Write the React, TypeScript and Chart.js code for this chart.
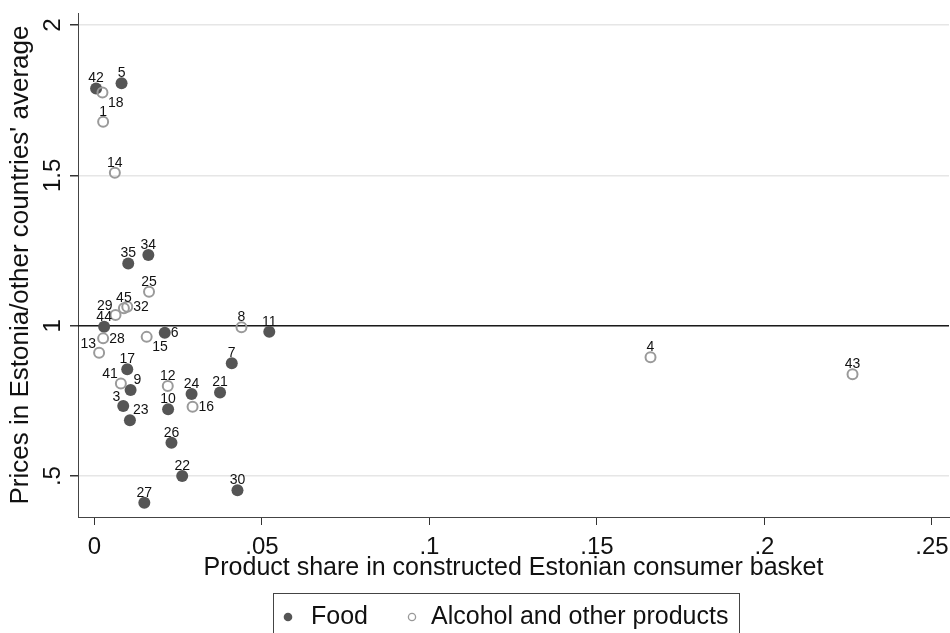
import React, { useEffect, useRef } from "react";
import { Chart, registerables } from "chart.js";

Chart.register(...registerables);

// ---- Data ----
const foodIds = ["42", "5", "35", "34", "44", "6", "11", "7", "21", "24", "10", "17", "9", "3", "23", "26", "22", "30", "27"];
const foodShare = [0.0005, 0.0081, 0.0101, 0.0161, 0.0029, 0.021, 0.0522, 0.041, 0.0375, 0.029, 0.022, 0.0098, 0.0108, 0.0086, 0.0106, 0.023, 0.0262, 0.0427, 0.0149];
const foodPrice = [1.789, 1.806, 1.207, 1.235, 0.997, 0.977, 0.98, 0.875, 0.778, 0.773, 0.722, 0.855, 0.786, 0.733, 0.686, 0.611, 0.5, 0.453, 0.411];

const alcIds = ["18", "1", "14", "25", "45", "32", "29", "28", "13", "15", "41", "12", "16", "8", "4", "43"];
const alcShare = [0.0024, 0.0026, 0.0061, 0.0163, 0.0088, 0.0098, 0.0063, 0.0026, 0.0014, 0.0156, 0.0079, 0.0219, 0.0293, 0.0439, 0.166, 0.2263];
const alcPrice = [1.776, 1.678, 1.509, 1.113, 1.058, 1.063, 1.036, 0.958, 0.91, 0.963, 0.808, 0.8, 0.731, 0.995, 0.895, 0.839];

// label clock positions (Stata-style mlabvposition)
const foodLabelPos = [12, 12, 12, 12, 12, 3, 12, 12, 12, 12, 12, 12, 1, 11, 1, 12, 12, 12, 12];
const alcLabelPos = [4, 12, 12, 12, 12, 3, 11, 3, 11, 4, 11, 12, 3, 12, 12, 12];

const xTicks = [0, 0.05, 0.1, 0.15, 0.2, 0.25];
const xTickLabels = ["0", ".05", ".1", ".15", ".2", ".25"];
const yTicks = [0.5, 1, 1.5, 2];
const yTickLabels = [".5", "1", "1.5", "2"];
const refLineValue = 1;

const seriesNames = ["Food", "Alcohol and other products"];
const xTitle = "Product share in constructed Estonian consumer basket";
const yTitle = "Prices in Estonia/other countries' average";

const FONT = '"Liberation Sans", Arial, sans-serif';

const labelOffsets: Record<number, { dx: number; dy: number; align: CanvasTextAlign }> = {
  12: { dx: 0, dy: -10, align: "center" },
  3: { dx: 6, dy: 0.5, align: "left" },
  1: { dx: 3, dy: -10, align: "left" },
  11: { dx: -3, dy: -9, align: "right" },
  4: { dx: 5.5, dy: 10.5, align: "left" },
};

const refLinePlugin = {
  id: "refLine",
  beforeDatasetsDraw(chart: any) {
    const { ctx, chartArea, scales } = chart;
    const y = scales.y.getPixelForValue(refLineValue);
    ctx.save();
    ctx.strokeStyle = "#1a1a1a";
    ctx.lineWidth = 1.6;
    ctx.beginPath();
    ctx.moveTo(chartArea.left, y);
    ctx.lineTo(chartArea.right, y);
    ctx.stroke();
    ctx.restore();
  },
};

const pointLabelPlugin = {
  id: "pointLabels",
  afterDatasetsDraw(chart: any) {
    const ctx = chart.ctx;
    ctx.save();
    ctx.font = `14px ${FONT}`;
    ctx.fillStyle = "#111";
    ctx.textBaseline = "middle";
    chart.data.datasets.forEach((ds: any, di: number) => {
      const meta = chart.getDatasetMeta(di);
      meta.data.forEach((pt: any, i: number) => {
        const o = labelOffsets[ds.labelPos[i]] || labelOffsets[12];
        ctx.textAlign = o.align;
        ctx.fillText(ds.ids[i], pt.x + o.dx, pt.y + o.dy);
      });
    });
    ctx.restore();
  },
};

const legendPlugin = {
  id: "customLegend",
  afterDraw(chart: any) {
    const ctx = chart.ctx;
    ctx.save();
    ctx.strokeStyle = "#444";
    ctx.lineWidth = 1;
    ctx.strokeRect(273.5, 593.5, 466, 60);
    const cy = 617;
    ctx.fillStyle = "#555";
    ctx.beginPath();
    ctx.arc(288, cy, 4.3, 0, Math.PI * 2);
    ctx.fill();
    ctx.strokeStyle = "#999";
    ctx.lineWidth = 1.3;
    ctx.beginPath();
    ctx.arc(412, cy, 3.6, 0, Math.PI * 2);
    ctx.stroke();
    ctx.fillStyle = "#111";
    ctx.font = `25px ${FONT}`;
    ctx.textAlign = "left";
    ctx.textBaseline = "middle";
    ctx.fillText(seriesNames[0], 311, cy);
    ctx.fillText(seriesNames[1], 431, cy);
    ctx.restore();
  },
};

function labelFor(ticks: number[], labels: string[], v: number) {
  const i = ticks.findIndex((t) => Math.abs(t - v) < 1e-9);
  return i >= 0 ? labels[i] : "";
}

export default function App() {
  const ref = useRef<HTMLCanvasElement | null>(null);

  useEffect(() => {
    if (!ref.current) return;
    const chart = new Chart(ref.current, {
      type: "scatter",
      data: {
        datasets: [
          {
            label: seriesNames[0],
            data: foodShare.map((x, i) => ({ x, y: foodPrice[i] })),
            ids: foodIds,
            labelPos: foodLabelPos,
            pointRadius: 6,
            pointBackgroundColor: "#555",
            pointBorderColor: "#555",
            pointBorderWidth: 0,
            order: 2,
          } as any,
          {
            label: seriesNames[1],
            data: alcShare.map((x, i) => ({ x, y: alcPrice[i] })),
            ids: alcIds,
            labelPos: alcLabelPos,
            pointRadius: 5,
            pointBackgroundColor: "rgba(0,0,0,0)",
            pointBorderColor: "#9a9a9a",
            pointBorderWidth: 2,
            order: 1,
          } as any,
        ],
      },
      options: {
        responsive: false,
        animation: false,
        devicePixelRatio: 1,
        layout: { autoPadding: false, padding: { top: 13, right: 1, left: 0, bottom: 0 } },
        plugins: {
          legend: { display: false },
          tooltip: { enabled: false },
        },
        scales: {
          x: {
            type: "linear",
            position: "bottom",
            min: -0.0049,
            max: 0.2551,
            afterBuildTicks: (scale: any) => {
              scale.ticks = xTicks.map((v) => ({ value: v }));
            },
            afterFit: (scale: any) => {
              scale.height = 116;
              scale.paddingLeft = 0;
              scale.paddingRight = 0;
            },
            ticks: {
              padding: 8,
              color: "#111",
              font: { family: FONT, size: 24 },
              maxRotation: 0,
              minRotation: 0,
              callback: (v: any) => labelFor(xTicks, xTickLabels, Number(v)),
            },
            grid: {
              color: "rgba(0,0,0,0)",
              tickColor: "#333",
              tickLength: 8,
              drawTicks: true,
            },
            border: { display: true, color: "#444", width: 1 },
            title: {
              display: true,
              text: xTitle,
              color: "#111",
              font: { family: FONT, size: 25 },
              padding: { top: 0, bottom: 50 },
            },
          },
          y: {
            type: "linear",
            position: "left",
            min: 0.364,
            max: 2.04,
            afterBuildTicks: (scale: any) => {
              scale.ticks = yTicks.map((v) => ({ value: v }));
            },
            afterFit: (scale: any) => {
              scale.width = 78;
              scale.paddingTop = 0;
              scale.paddingBottom = 0;
            },
            ticks: {
              padding: 0,
              color: "#111",
              font: { family: FONT, size: 24 },
              minRotation: 90,
              maxRotation: 90,
              crossAlign: "center",
              callback: (v: any) => labelFor(yTicks, yTickLabels, Number(v)),
            },
            grid: {
              color: "#e6e6e6",
              lineWidth: 1.5,
              tickColor: "#333",
              tickLength: 8,
            },
            border: { display: true, color: "#444", width: 1 },
            title: {
              display: true,
              text: yTitle,
              color: "#111",
              font: { family: FONT, size: 26 },
              padding: { top: 5, bottom: 0 },
            },
          },
        },
      } as any,
      plugins: [refLinePlugin, pointLabelPlugin, legendPlugin],
    });
    return () => chart.destroy();
  }, []);

  return (
    <div style={{ position: "absolute", left: 0, top: 0, width: 950, height: 633, background: "#fff" }}>
      <canvas ref={ref} width={950} height={633} />
    </div>
  );
}
